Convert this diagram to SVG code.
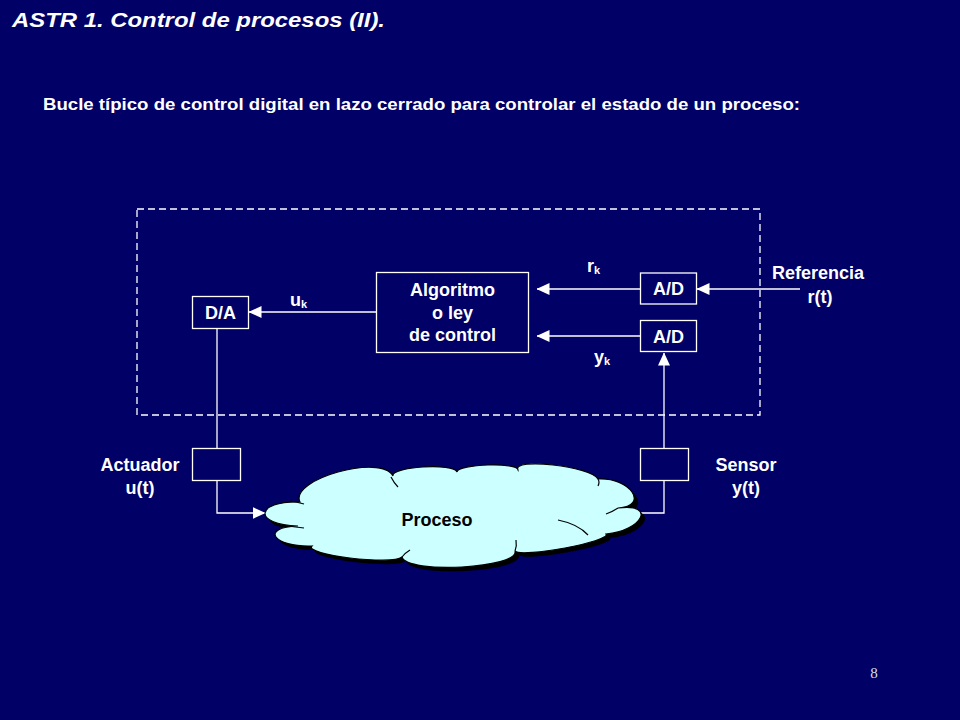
<svg xmlns="http://www.w3.org/2000/svg" width="960" height="720" viewBox="0 0 960 720">
<style>
.t{font-family:"Liberation Sans",Arial,sans-serif;font-weight:bold;fill:#fff}
.lbl{font-size:18px;text-anchor:middle}
.box{fill:none;stroke:#fff;stroke-width:1.3}
.ln{fill:none;stroke:#fff;stroke-width:1.3}
.crease{fill:none;stroke:#000;stroke-width:1.2}
</style>
<defs>
<marker id="ah" markerWidth="13" markerHeight="12" refX="12.5" refY="6" orient="auto" markerUnits="userSpaceOnUse">
<path d="M0,0 L13,6 L0,12 Z" fill="#fff"/>
</marker>
<path id="cloudPath" d="M300,502 C288.7,479.3 381.7,453.3 393,476 C390.3,466.7 454.3,462.7 457,472 C457.7,464 518.7,462 518,470 C511.3,457.3 591.3,466.3 598,479 C630,477 650,506 618,508 C656.7,502.7 642.7,530.7 606,534 C612,541.3 521,558.3 515,551 C519.7,568.3 406.7,574.3 402,557 C392.7,565.7 302.7,554.7 312,546 C273.3,547.3 259.3,527.3 298,526 C252.7,524.7 254.7,500.7 300,502 Z"/>
</defs>
<rect width="960" height="720" fill="#000066"/>
<text class="t" x="12" y="27" font-size="20" font-style="italic" textLength="373" lengthAdjust="spacingAndGlyphs">ASTR 1. Control de procesos (II).</text>
<text class="t" x="43" y="110" font-size="16" textLength="757" lengthAdjust="spacingAndGlyphs">Bucle típico de control digital en lazo cerrado para controlar el estado de un proceso:</text>

<rect x="137" y="209" width="623" height="206" fill="none" stroke="#fff" stroke-width="1.3" stroke-dasharray="7,4"/>

<g id="connectors">
<line class="ln" x1="376" y1="312" x2="249" y2="312" marker-end="url(#ah)"/>
<line class="ln" x1="640" y1="289" x2="537" y2="289" marker-end="url(#ah)"/>
<line class="ln" x1="640" y1="336" x2="537" y2="336" marker-end="url(#ah)"/>
<line class="ln" x1="800" y1="289" x2="697" y2="289" marker-end="url(#ah)"/>
<line class="ln" x1="217" y1="328" x2="217" y2="448"/>
<polyline class="ln" points="217,480 217,513 265,513" marker-end="url(#ah)"/>
<polyline class="ln" points="640,513 664,513 664,480"/>
<line class="ln" x1="664" y1="448" x2="664" y2="353" marker-end="url(#ah)"/>
</g>

<g id="process">
<use href="#cloudPath" transform="translate(4,4)" fill="#000"/>
<use href="#cloudPath" fill="#ccffff" stroke="#000" stroke-width="1.2"/>
<path class="crease" d="M290,501 Q297,502 304,504"/>
<path class="crease" d="M391,477 Q394,483 398,487"/>
<path class="crease" d="M598,479 Q600,482 598,486"/>
<path class="crease" d="M618,508 Q612,512 606,514"/>
<path class="crease" d="M558,520 Q578,524 588,535"/>
<path class="crease" d="M515,551 Q517,546 516,540"/>
<path class="crease" d="M402,557 Q405,553 410,550"/>
<path class="crease" d="M274,525 Q290,526 304,528"/>
<text class="t lbl" x="437" y="526" fill="#000" style="fill:#000">Proceso</text>
</g>

<g id="algoritmo">
<rect class="box" x="376.5" y="272.5" width="152" height="80"/>
<text class="t lbl" x="452.5" y="296">Algoritmo</text>
<text class="t lbl" x="452.5" y="319">o ley</text>
<text class="t lbl" x="452.5" y="341">de control</text>
</g>

<g id="da">
<rect class="box" x="192.5" y="296.5" width="56" height="32"/>
<text class="t lbl" x="220.5" y="319">D/A</text>
</g>

<g id="ad1">
<rect class="box" x="640.5" y="273" width="56" height="31"/>
<text class="t lbl" x="668.5" y="295">A/D</text>
</g>

<g id="ad2">
<rect class="box" x="640.5" y="320.5" width="56" height="31"/>
<text class="t lbl" x="668.5" y="342.5">A/D</text>
</g>

<g id="actuador">
<rect class="box" x="192.5" y="448.5" width="48" height="32"/>
</g>

<g id="sensor">
<rect class="box" x="640.5" y="448.5" width="48" height="32"/>
</g>

<g id="labels">
<text class="t" font-size="18" x="290" y="306">u<tspan font-size="11" dy="2">k</tspan></text>
<text class="t" font-size="18" x="587" y="272">r<tspan font-size="11" dy="2">k</tspan></text>
<text class="t" font-size="18" x="594" y="363">y<tspan font-size="11" dy="2">k</tspan></text>
<text class="t lbl" x="818" y="279">Referencia</text>
<text class="t lbl" x="820" y="303">r(t)</text>
<text class="t lbl" x="140" y="471">Actuador</text>
<text class="t lbl" x="140" y="494">u(t)</text>
<text class="t lbl" x="746" y="471">Sensor</text>
<text class="t lbl" x="746" y="494">y(t)</text>
</g>

<text x="874" y="678" font-family="'Liberation Serif','Times New Roman',serif" font-size="15" fill="#ddd" text-anchor="middle">8</text>
</svg>
